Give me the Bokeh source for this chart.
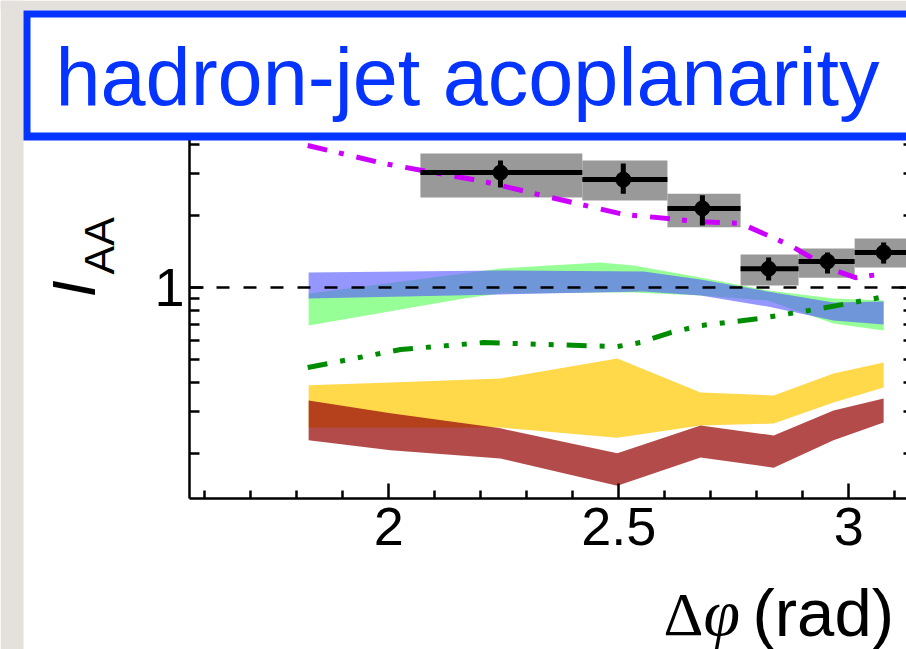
from bokeh.plotting import figure
from bokeh.models import (Range1d, FixedTicker, CustomJSTickFormatter,
                          BoxAnnotation, Label, LinearAxis, LogAxis)
from bokeh.embed import file_html
from bokeh.resources import INLINE

# ---------------- data ----------------
# measured I_AA points
x_data = [2.243, 2.510, 2.682, 2.826, 2.954, 3.076]
x_bin_lo = [2.069, 2.421, 2.606, 2.765, 2.891, 3.013]
x_bin_hi = [2.421, 2.606, 2.765, 2.891, 3.013, 3.1416]
iaa = [3.04, 2.84, 2.15, 1.20, 1.286, 1.403]
stat_lo = [2.63, 2.48, 1.82, 1.07, 1.145, 1.26]
stat_hi = [3.42, 3.32, 2.44, 1.337, 1.403, 1.546]
sys_lo = [2.39, 2.32, 1.79, 1.02, 1.10, 1.214]
sys_hi = [3.66, 3.42, 2.48, 1.376, 1.458, 1.606]

# magenta dash-dot model curve
magenta_x = [1.824, 1.989, 2.206, 2.345, 2.510, 2.678, 2.765, 2.874, 2.960, 3.015, 3.065]
magenta_y = [3.95, 3.32, 2.79, 2.41, 2.03, 1.89, 1.86, 1.50, 1.20, 1.10, 1.134]

# dark green dash-dot-dot model curve
dkgreen_x = [1.824, 2.026, 2.206, 2.345, 2.497, 2.547, 2.613, 2.678, 2.808, 2.939, 3.069]
dkgreen_y = [0.461, 0.549, 0.587, 0.576, 0.565, 0.587, 0.647, 0.692, 0.741, 0.816, 0.908]

# light green band
green_x = [1.826, 2.163, 2.243, 2.460, 2.532, 2.678, 2.824, 2.967, 3.076]
green_hi = [0.944, 1.145, 1.202, 1.274, 1.237, 1.102, 0.971, 0.899, 0.882]
green_lo = [0.692, 0.899, 0.944, 0.953, 0.953, 0.926, 0.882, 0.706, 0.660]

# blue band
blue_x = [1.826, 2.243, 2.554, 2.678, 2.824, 2.967, 3.076]
blue_hi = [1.156, 1.179, 1.168, 1.080, 0.962, 0.865, 0.873]
blue_lo = [0.899, 0.935, 0.962, 0.926, 0.832, 0.727, 0.699]

# yellow and red bands
yr_x = [1.826, 2.004, 2.243, 2.497, 2.678, 2.837, 2.967, 3.076]
yellow_hi = [0.388, 0.399, 0.415, 0.503, 0.362, 0.352, 0.435, 0.484]
yellow_lo = [0.258, 0.258, 0.258, 0.234, 0.263, 0.268, 0.329, 0.380]
red_hi = [0.335, 0.296, 0.256, 0.201, 0.263, 0.239, 0.304, 0.342]
red_lo = [0.228, 0.207, 0.191, 0.147, 0.193, 0.175, 0.228, 0.271]

# axes
x_axis_min, x_axis_max, x_frame_right = 1.567, 3.1257, 3.1416
y_axis_min, y_axis_max = 0.1298, 4.351
x_major_ticks = [2, 2.5, 3]
x_minor_ticks = [1.6, 1.7, 1.8, 1.9, 2.1, 2.2, 2.3, 2.4, 2.6, 2.7, 2.8, 2.9, 3.1]
y_major_ticks = [1]
y_minor_ticks = [0.2, 0.3, 0.4, 0.5, 0.6, 0.7, 0.8, 0.9, 2, 3, 4]
ref_level = [1]
title_text = "hadron-jet acoplanarity"

# ---------------- layout constants ----------------
W, H = 906, 649
BLUE = "#0533FF"
GRAY = "#E4E0DB"
K = 0.33   # empirical baseline offset of Label text (fraction of font size)


def sx(c):          # canvas px -> screen units (frame == whole canvas)
    return c


def sy(c):
    return H - c


p = figure(width=W, height=H, title=None,
           x_range=Range1d(1.15613, 3.12570),
           y_range=Range1d(0.030131, 16.066), y_axis_type="log",
           x_axis_location=None, y_axis_location=None,
           output_backend="svg", toolbar_location=None,
           min_border_left=0, min_border_right=0, min_border_top=0,
           min_border_bottom=0, outline_line_color=None,
           background_fill_color="white", border_fill_color="white")
p.xgrid.grid_line_color = None
p.ygrid.grid_line_color = None

# bands
p.varea(x=green_x, y1=green_lo, y2=green_hi, fill_color="#96FF96", fill_alpha=1.0)
p.varea(x=blue_x, y1=blue_lo, y2=blue_hi, fill_color="#5858FF", fill_alpha=0.63)
p.varea(x=yr_x, y1=yellow_lo, y2=yellow_hi, fill_color="#FFD94A", fill_alpha=1.0)
p.varea(x=yr_x, y1=red_lo, y2=red_hi, fill_color="#990B0B", fill_alpha=0.737)

# reference line at 1
p.segment(x0=[x_axis_min], x1=[x_axis_max], y0=ref_level, y1=ref_level,
          line_color="black", line_width=2.5, line_dash="13 14")

# systematic boxes
p.quad(left=x_bin_lo, right=x_bin_hi, bottom=sys_lo, top=sys_hi,
       fill_color="#999999", line_color=None)

# model curves
p.line(magenta_x, magenta_y, line_color="#CC00FF", line_width=5,
       line_dash="20 12 5 13")
p.line(dkgreen_x, dkgreen_y, line_color="#008C00", line_width=5,
       line_dash="20 13 5 13 5 13 5 13")

# data points
p.segment(x0=x_bin_lo, x1=x_bin_hi, y0=iaa, y1=iaa, line_color="black", line_width=5)
p.segment(x0=x_data, x1=x_data, y0=stat_lo, y1=stat_hi, line_color="black", line_width=5)
p.scatter(x_data, iaa, size=15, color="black")

# axes (fixed at the range minima), plus the mirrored right-hand ticks
fmt = CustomJSTickFormatter(code="return tick.toString()")
blank = CustomJSTickFormatter(code="return ''")
xax = LinearAxis(fixed_location=y_axis_min, bounds=(x_axis_min, x_axis_max),
                 ticker=FixedTicker(ticks=x_major_ticks, minor_ticks=x_minor_ticks),
                 formatter=fmt)
yax = LogAxis(fixed_location=x_axis_min, bounds=(y_axis_min, y_axis_max),
              ticker=FixedTicker(ticks=y_major_ticks, minor_ticks=y_minor_ticks),
              formatter=fmt)
yax_r = LogAxis(fixed_location=x_frame_right, bounds=(y_axis_min, y_axis_max),
                ticker=FixedTicker(ticks=y_major_ticks, minor_ticks=y_minor_ticks),
                formatter=blank)
for ax in (xax, yax, yax_r):
    ax.axis_line_color = "black"
    ax.axis_line_width = 2.5
    ax.major_tick_line_color = "black"
    ax.minor_tick_line_color = "black"
    ax.major_tick_line_width = 2.5
    ax.minor_tick_line_width = 2.5
    ax.major_tick_out = 0
    ax.minor_tick_out = 0
    ax.major_label_text_font = "Liberation Sans"
    ax.major_label_text_font_size = "54px"
    ax.major_label_text_color = "black"
xax.major_tick_in = 15
xax.minor_tick_in = 8
xax.major_label_standoff = 9
yax.major_tick_in = 14
yax.minor_tick_in = 10
yax.major_label_standoff = 5
yax_r.major_tick_in = 14
yax_r.minor_tick_in = 10
p.add_layout(xax, "below")
p.add_layout(yax, "left")
p.add_layout(yax_r, "right")


def sbox(l, r, t, b, color):
    return BoxAnnotation(left=sx(l), right=sx(r), top=sy(t), bottom=sy(b),
                         left_units="screen", right_units="screen",
                         top_units="screen", bottom_units="screen",
                         fill_color=color, fill_alpha=1.0, line_color=None)


def text_at(x, baseline, text, size, font="Liberation Sans", style="normal",
            color="black", angle=0.0):
    # x, baseline: wanted canvas position of the text start / baseline
    if angle:
        return Label(x=sx(baseline - K * size), y=sy(x), x_units="screen",
                     y_units="screen", text=text, angle=angle, text_font=font,
                     text_font_style=style, text_font_size=f"{size}px",
                     text_color=color, text_baseline="alphabetic", text_align="left")
    return Label(x=sx(x), y=sy(baseline - K * size), x_units="screen",
                 y_units="screen", text=text, text_font=font,
                 text_font_style=style, text_font_size=f"{size}px",
                 text_color=color, text_baseline="alphabetic", text_align="left")


# background texture strips (left and top)
p.add_layout(sbox(0, 23, 0, H, GRAY))
p.add_layout(sbox(0, W, 0, 10, GRAY))

# title box
p.add_layout(sbox(23, W + 30, 10, 140, BLUE))
p.add_layout(sbox(30, W + 30, 17, 132, "white"))
p.add_layout(text_at(55, 103, title_text, 81, color=BLUE))

# y-axis title  I_AA (rotated, reading upwards)
p.add_layout(text_at(297, 93, "I", 62, style="italic", angle=1.5708))
p.add_layout(text_at(274, 113, "AA", 43, angle=1.5708))

# x-axis title  Δφ (rad)
p.add_layout(text_at(663, 634, "Δ", 62, font="Liberation Serif"))
p.add_layout(text_at(703, 634, "φ", 66, font="Liberation Serif", style="italic"))
p.add_layout(text_at(752, 634, "(rad)", 67))

open("out.html", "w").write(file_html(p, INLINE))
